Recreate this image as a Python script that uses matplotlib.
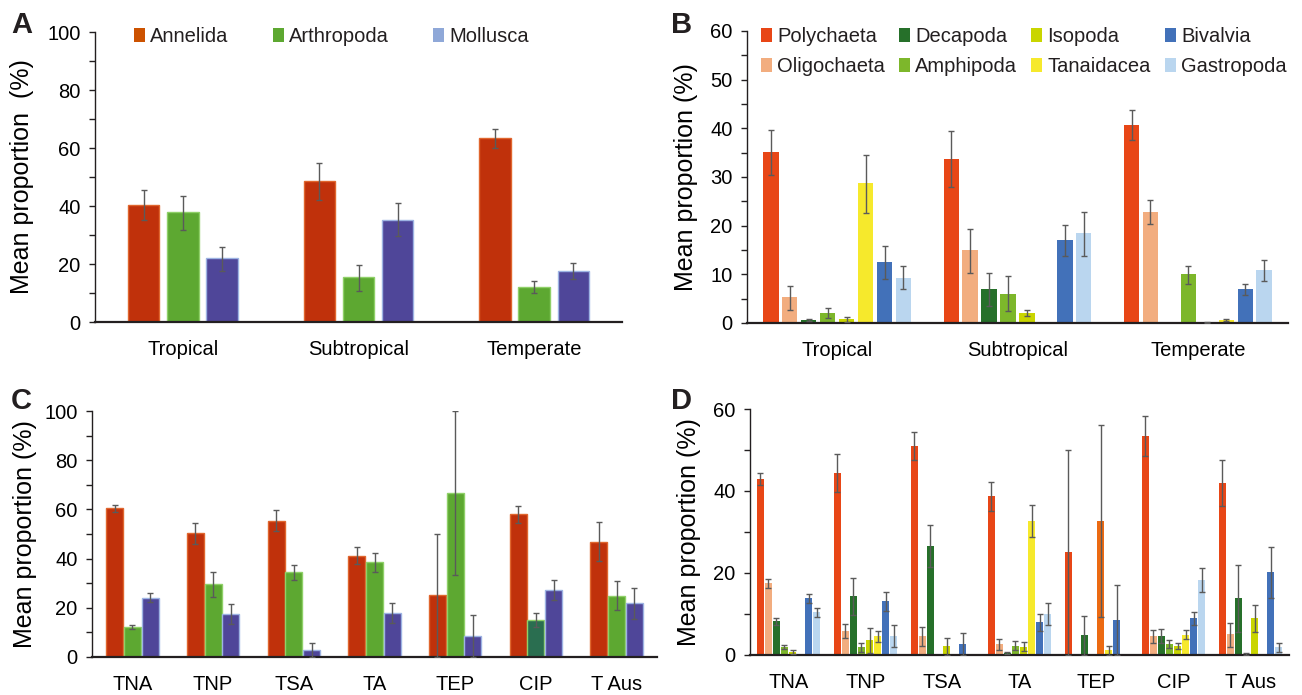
import numpy as np
import matplotlib
matplotlib.use('Agg')
import matplotlib.pyplot as plt
from matplotlib.patches import Patch

plt.rcParams['font.family'] = ['Liberation Sans', 'DejaVu Sans']
plt.rcParams['text.color'] = '#231F20'

nan = np.nan

# ---------- panel A: phyla by climate zone ----------
zones = ['Tropical', 'Subtropical', 'Temperate']
phyla = ['Annelida', 'Arthropoda', 'Mollusca']
annelida_a = [40.3, 48.6, 63.5]
annelida_a_lo = [35.1, 42.1, 60.0]
annelida_a_hi = [45.5, 54.8, 66.6]
arthropoda_a = [38.0, 15.4, 12.2]
arthropoda_a_lo = [31.6, 10.8, 10.1]
arthropoda_a_hi = [43.5, 19.7, 14.0]
mollusca_a = [21.9, 35.3, 17.7]
mollusca_a_lo = [17.7, 29.7, 15.0]
mollusca_a_hi = [25.9, 41.0, 20.3]

# ---------- panel C: phyla by ecoregion ----------
sites = ['TNA', 'TNP', 'TSA', 'TA', 'TEP', 'CIP', 'T Aus']
annelida_c = [60.4, 50.3, 55.4, 41.2, 25.2, 58.0, 46.9]
annelida_c_lo = [58.9, 46.0, 51.2, 37.7, 0.0, 54.3, 38.9]
annelida_c_hi = [61.9, 54.6, 59.8, 44.7, 49.9, 61.4, 54.7]
arthropoda_c = [12.3, 29.5, 34.4, 38.6, 66.8, 15.0, 24.8]
arthropoda_c_lo = [11.2, 24.4, 31.2, 34.7, 33.3, 12.0, 19.0]
arthropoda_c_hi = [13.2, 34.5, 37.4, 42.4, 100.0, 18.0, 30.7]
mollusca_c = [24.1, 17.6, 2.7, 17.7, 8.5, 27.3, 21.8]
mollusca_c_lo = [22.4, 13.6, 0.0, 13.8, 0.0, 23.2, 15.6]
mollusca_c_hi = [25.9, 21.6, 5.5, 22.1, 16.9, 31.1, 28.2]

# ---------- panel B: classes/orders by climate zone ----------
taxa = ['Polychaeta', 'Oligochaeta', 'Decapoda', 'Amphipoda',
        'Isopoda', 'Tanaidacea', 'Bivalvia', 'Gastropoda']
poly_b = [35.1, 33.6, 40.6]
poly_b_lo = [30.4, 28.0, 37.7]
poly_b_hi = [39.7, 39.5, 43.7]
oligo_b = [5.3, 14.9, 22.9]
oligo_b_lo = [2.7, 10.2, 20.3]
oligo_b_hi = [7.7, 19.4, 25.2]
deca_b = [0.7, 6.9, 0.1]
deca_b_lo = [0.5, 3.4, nan]
deca_b_hi = [0.9, 10.3, nan]
amph_b = [2.1, 6.0, 10.0]
amph_b_lo = [1.1, 2.5, 8.0]
amph_b_hi = [3.0, 9.6, 11.7]
iso_b = [0.8, 2.1, 0.15]
iso_b_lo = [0.3, 1.4, 0.0]
iso_b_hi = [1.3, 2.7, 0.3]
tan_b = [28.7, 0.0, 0.7]
tan_b_lo = [22.6, nan, 0.5]
tan_b_hi = [34.5, nan, 0.9]
biv_b = [12.6, 17.0, 6.9]
biv_b_lo = [9.1, 13.7, 5.8]
biv_b_hi = [15.9, 20.2, 8.1]
gast_b = [9.3, 18.4, 10.8]
gast_b_lo = [6.9, 13.7, 8.6]
gast_b_hi = [11.7, 22.9, 12.9]

# ---------- panel D: classes/orders by ecoregion ----------
poly_d = [42.9, 44.3, 51.0, 38.8, 25.1, 53.4, 41.9]
poly_d_lo = [41.5, 39.7, 47.6, 35.1, 0.0, 48.6, 36.3]
poly_d_hi = [44.3, 49.1, 54.3, 42.1, 50.0, 58.2, 47.5]
oligo_d = [17.5, 5.9, 4.6, 2.7, 0.0, 4.6, 5.1]
oligo_d_lo = [16.3, 4.2, 2.3, 1.3, nan, 3.0, 2.0]
oligo_d_hi = [18.5, 7.5, 6.8, 3.9, nan, 6.0, 7.9]
deca_d = [8.3, 14.4, 26.6, 0.4, 4.9, 4.6, 13.8]
deca_d_lo = [7.3, 9.7, 21.4, 0.15, 0.0, 2.9, 5.7]
deca_d_hi = [9.1, 18.9, 31.6, 0.65, 9.6, 6.3, 21.9]
amph_d = [1.9, 1.9, 0.0, 2.2, 0.0, 2.7, 0.3]
amph_d_lo = [1.4, 0.7, nan, 1.1, nan, 1.7, 0.0]
amph_d_hi = [2.4, 3.0, nan, 3.3, nan, 3.7, 0.6]
iso_d = [0.7, 3.7, 2.1, 2.0, 32.7, 2.3, 9.1]
iso_d_lo = [0.3, 0.4, 0.0, 1.0, 9.3, 1.5, 5.7]
iso_d_hi = [1.1, 6.7, 4.1, 3.1, 56.1, 2.9, 12.3]
tan_d = [0.0, 4.6, 0.0, 32.8, 1.1, 5.0, 0.0]
tan_d_lo = [nan, 3.1, nan, 28.9, 0.0, 4.0, nan]
tan_d_hi = [nan, 5.9, nan, 36.7, 2.3, 6.0, nan]
biv_d = [13.9, 13.1, 2.8, 8.0, 8.5, 9.0, 20.2]
biv_d_lo = [12.8, 10.8, 0.0, 5.9, 0.0, 7.2, 13.9]
biv_d_hi = [14.9, 15.3, 5.4, 9.9, 17.0, 10.6, 26.3]
gast_d = [10.4, 4.6, 0.0, 10.0, 0.0, 18.3, 1.9]
gast_d_lo = [9.3, 2.0, nan, 7.3, nan, 15.3, 0.65]
gast_d_hi = [11.5, 7.2, nan, 12.6, nan, 21.1, 2.9]

# colours
phylum_colors = ['#C0310B', '#5DA831', '#4F4699']
phylum_edges = ['#E0662E', '#8FD068', '#9DB3E3']
phylum_legend = ['#CC5200', '#5DA831', '#8FA8D8']
taxa_colors = ['#E84616', '#F2AD7F', '#26702A', '#7DB72B',
               '#C9D500', '#F6E92C', '#4271B9', '#BAD6EF']
ERR = '#5A5A5A'
AX = '#231F20'


def grouped(ax, means, los, his, colors, width, step, edges=None, lw=0.0):
    n = len(means)
    x = np.arange(len(means[0]))
    for i, (m, lo, hi) in enumerate(zip(means, los, his)):
        xs = x + (i - (n - 1) / 2) * step
        m = np.array(m, float)
        lo = np.array(lo, float)
        hi = np.array(hi, float)
        col = colors[i]
        ec = edges[i] if edges is not None else col
        ax.bar(xs, m, width, color=col, edgecolor=ec, linewidth=lw, zorder=2)
        ok = ~np.isnan(lo)
        ax.errorbar(xs[ok], m[ok], yerr=[m[ok] - lo[ok], hi[ok] - m[ok]],
                    fmt='none', ecolor=ERR, elinewidth=1.0, capsize=2,
                    capthick=1.0, zorder=3)
    return x


def style(ax, ymax, major, ngroups, labels):
    for s in ['top', 'right']:
        ax.spines[s].set_visible(False)
    ax.spines['left'].set_color(AX)
    ax.spines['left'].set_linewidth(1.0)
    ax.spines['bottom'].set_color(AX)
    ax.spines['bottom'].set_linewidth(1.6)
    ax.set_ylim(0, ymax)
    ax.set_xlim(-0.5, ngroups - 0.5)
    ax.set_yticks(np.arange(0, ymax + 1, major))
    ax.set_yticks(np.arange(major / 2, ymax, major), minor=True)
    ax.tick_params(axis='y', which='both', direction='out', length=4.5,
                   width=1.0, color=AX, labelsize=14.5, pad=6)
    ax.set_xticks(np.arange(ngroups))
    ax.set_xticklabels(labels)
    ax.tick_params(axis='x', length=0, labelsize=14.5, pad=13)


fig = plt.figure(figsize=(13.02, 6.95), dpi=100)
W, H = 1302, 695


def add_axes(l, r, t, b):
    return fig.add_axes([l / W, 1 - b / H, (r - l) / W, (b - t) / H])


axA = add_axes(95, 622, 32, 322)
axB = add_axes(747, 1288, 31, 323)
axC = add_axes(92, 657, 411, 657)
axD = add_axes(750, 1289, 409, 655)

# A
grouped(axA, [annelida_a, arthropoda_a, mollusca_a],
        [annelida_a_lo, arthropoda_a_lo, mollusca_a_lo],
        [annelida_a_hi, arthropoda_a_hi, mollusca_a_hi],
        phylum_colors, 0.18, 0.223, edges=phylum_edges, lw=1.0)
style(axA, 100, 20, 3, zones)
axA.set_ylabel('Mean proportion  (%)', fontsize=18)
axA.yaxis.set_label_coords(-0.115, 0.5)
hA = [Patch(facecolor=c, edgecolor='none') for c in phylum_legend]
axA.legend(hA, phyla, loc='upper left', bbox_to_anchor=(134 / W, 1 - 27 / H),
           bbox_transform=fig.transFigure, ncol=3, frameon=False,
           fontsize=14.5, handlelength=0.55, handleheight=0.7,
           handletextpad=0.25, columnspacing=2.2, borderpad=0,
           borderaxespad=0)

# B
grouped(axB, [poly_b, oligo_b, deca_b, amph_b, iso_b, tan_b, biv_b, gast_b],
        [poly_b_lo, oligo_b_lo, deca_b_lo, amph_b_lo, iso_b_lo, tan_b_lo,
         biv_b_lo, gast_b_lo],
        [poly_b_hi, oligo_b_hi, deca_b_hi, amph_b_hi, iso_b_hi, tan_b_hi,
         biv_b_hi, gast_b_hi],
        taxa_colors, 0.085, 0.105)
style(axB, 60, 10, 3, zones)
axB.set_ylabel('Mean proportion (%)', fontsize=18)
axB.yaxis.set_label_coords(-0.09, 0.5)
hB = [Patch(facecolor=c, edgecolor='none') for c in taxa_colors]
axB.legend(hB, taxa, loc='upper left', bbox_to_anchor=(761 / W, 1 - 27 / H),
           bbox_transform=fig.transFigure, ncol=4, frameon=False,
           fontsize=14.5, handlelength=0.55, handleheight=0.7,
           handletextpad=0.25, columnspacing=0.7, labelspacing=0.55,
           borderpad=0, borderaxespad=0)

# C
grouped(axC, [annelida_c, arthropoda_c, mollusca_c],
        [annelida_c_lo, arthropoda_c_lo, mollusca_c_lo],
        [annelida_c_hi, arthropoda_c_hi, mollusca_c_hi],
        phylum_colors, 0.21, 0.22, edges=phylum_edges, lw=1.0)
# CIP arthropod bar is drawn in a darker teal green in the original
axC.patches[len(sites) + sites.index('CIP')].set_facecolor('#2A6E50')
style(axC, 100, 20, 7, sites)
axC.set_ylabel('Mean proportion (%)', fontsize=18)
axC.yaxis.set_label_coords(-0.098, 0.5)

# D
grouped(axD, [poly_d, oligo_d, deca_d, amph_d, iso_d, tan_d, biv_d, gast_d],
        [poly_d_lo, oligo_d_lo, deca_d_lo, amph_d_lo, iso_d_lo, tan_d_lo,
         biv_d_lo, gast_d_lo],
        [poly_d_hi, oligo_d_hi, deca_d_hi, amph_d_hi, iso_d_hi, tan_d_hi,
         biv_d_hi, gast_d_hi],
        taxa_colors, 0.094, 0.105)
# TEP isopod bar is orange in the original
axD.patches[4 * len(sites) + sites.index('TEP')].set_facecolor('#EC6A12')
style(axD, 60, 20, 7, sites)
axD.set_yticks(np.arange(10, 60, 20), minor=True)
axD.set_ylabel('Mean proportion (%)', fontsize=18)
axD.yaxis.set_label_coords(-0.09, 0.5)

# panel letters
for letter, (px, py) in zip('ABCD', [(11, 33), (671, 33), (11, 409), (671, 409)]):
    fig.text(px / W, 1 - py / H, letter, fontsize=21, fontweight='bold',
             ha='left', va='baseline')

fig.savefig('out.png', dpi=100)
